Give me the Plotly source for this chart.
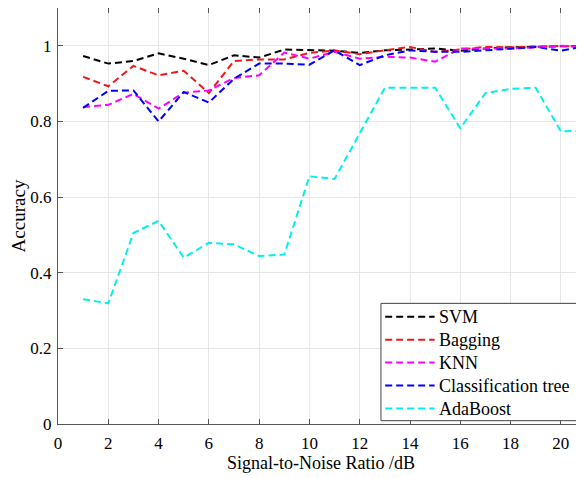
import plotly.graph_objects as go

snr = list(range(1, 22))
svm = [0.973, 0.953, 0.960, 0.980, 0.966, 0.949, 0.975, 0.969, 0.990, 0.989,
       0.987, 0.981, 0.988, 0.990, 0.993, 0.987, 0.993, 0.996, 0.997, 1.000, 1.000]
bagging = [0.918, 0.893, 0.947, 0.922, 0.934, 0.875, 0.960, 0.964, 0.964, 0.981,
           0.988, 0.978, 0.988, 0.997, 0.984, 0.990, 0.997, 0.996, 0.999, 1.000, 0.997]
knn = [0.838, 0.844, 0.873, 0.834, 0.876, 0.882, 0.915, 0.922, 0.982, 0.966,
       0.984, 0.966, 0.971, 0.969, 0.958, 0.993, 0.993, 0.993, 0.996, 1.000, 0.997]
ctree = [0.836, 0.881, 0.882, 0.800, 0.878, 0.850, 0.913, 0.953, 0.953, 0.950,
         0.988, 0.949, 0.975, 0.988, 0.984, 0.984, 0.988, 0.993, 0.997, 0.987, 0.999]
adaboost = [0.330, 0.319, 0.505, 0.537, 0.440, 0.479, 0.475, 0.444, 0.448, 0.655,
            0.648, 0.769, 0.889, 0.889, 0.889, 0.782, 0.875, 0.886, 0.889, 0.774, 0.776]

names = ["SVM", "Bagging", "KNN", "Classification tree", "AdaBoost"]
colors = ["#000000", "#f01818", "#ff00ff", "#0000ff", "#00f0f0"]
values = [svm, bagging, knn, ctree, adaboost]

font = "Liberation Serif, Times New Roman, serif"
DASH = "7px,4px"

fig = go.Figure()
for name, vals, col in zip(names, values, colors):
    fig.add_trace(go.Scatter(x=snr, y=vals, mode="lines", name=name,
                             line=dict(color=col, width=2, dash=DASH)))

# Legend box (drawn manually to match the compact original layout)
fig.add_shape(type="rect", xref="paper", yref="paper",
              x0=0.614, x1=1.05, y0=0.008, y1=0.290,
              fillcolor="white", line=dict(color="#444", width=1), layer="above")
leg_top, leg_step = 0.258, 0.0552
for i, (name, col) in enumerate(zip(names, colors)):
    yy = leg_top - i * leg_step
    fig.add_shape(type="line", xref="paper", yref="paper",
                  x0=0.622, x1=0.716, y0=yy, y1=yy,
                  line=dict(color=col, width=2, dash=DASH), layer="above")
    fig.add_annotation(xref="paper", yref="paper", x=0.721, y=yy,
                       text=name, showarrow=False, xanchor="left", yanchor="middle",
                       font=dict(family=font, size=18, color="black"))

fig.update_layout(
    width=576, height=470,
    margin=dict(l=50, r=0, t=0, b=54, autoexpand=False),
    paper_bgcolor="white", plot_bgcolor="white",
    font=dict(family=font, size=17, color="black"),
    showlegend=False,
    xaxis=dict(range=[0, 20.92], dtick=2, tick0=0, automargin=False,
               showgrid=True, gridcolor="#e6e6e6", gridwidth=1,
               showline=True, linecolor="#555", linewidth=1, mirror="ticks",
               ticks="inside", ticklen=5, tickcolor="#555",
               ticklabelstandoff=4,
               zeroline=False,
               title=dict(text="Signal-to-Noise Ratio /dB", font=dict(size=18), standoff=3),
               tickfont=dict(size=17)),
    yaxis=dict(range=[0, 1.1], tickvals=[0, 0.2, 0.4, 0.6, 0.8, 1],
               ticktext=["0", "0.2", "0.4", "0.6", "0.8", "1"], automargin=False,
               showgrid=True, gridcolor="#e6e6e6", gridwidth=1,
               showline=True, linecolor="#555", linewidth=1, mirror=False,
               ticks="inside", ticklen=5, tickcolor="#555",
               ticklabelstandoff=2,
               zeroline=False,
               title=dict(text="Accuracy", font=dict(size=19), standoff=9),
               tickfont=dict(size=17)),
)

fig.write_html("out.html")
